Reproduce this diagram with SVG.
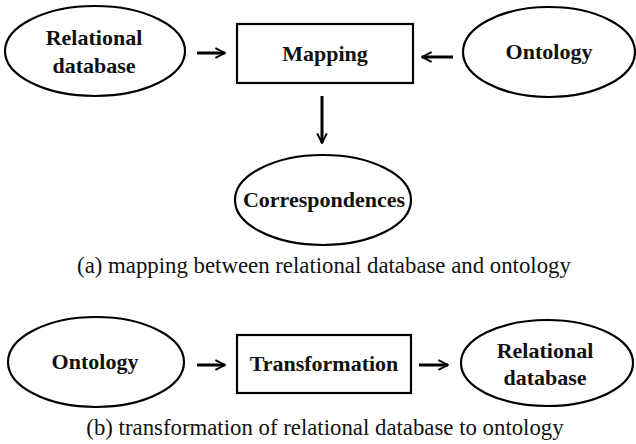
<svg xmlns="http://www.w3.org/2000/svg" width="636" height="444" viewBox="0 0 636 444">
<defs>
<style>
.node ellipse, .node rect { fill: #fff; stroke: #000; stroke-width: 2.2; }
.lbl { font-family: "Liberation Serif", "Times New Roman", serif; font-weight: bold; font-size: 22px; text-anchor: middle; fill: #111; }
.cap { font-family: "Liberation Serif", "Times New Roman", serif; font-size: 22.8px; text-anchor: middle; fill: #111; }
.conn line { stroke: #000; stroke-width: 3; marker-end: url(#ah); }
</style>
<marker id="ah" viewBox="0 0 10 10" refX="9" refY="5" markerWidth="4" markerHeight="4" orient="auto" markerUnits="strokeWidth">
<path d="M1,1 L9,5 L1,9" fill="none" stroke="#000" stroke-width="1.6"/>
</marker>
</defs>
<rect width="636" height="444" fill="#fff"/>
<g id="relational-db-a" class="node">
<ellipse cx="95" cy="51" rx="90" ry="45"/>
<text class="lbl" x="94" y="45">Relational</text>
<text class="lbl" x="94" y="73">database</text>
</g>
<g id="mapping" class="node">
<rect x="237" y="24" width="176" height="59"/>
<text class="lbl" x="325" y="61">Mapping</text>
</g>
<g id="ontology-a" class="node">
<ellipse cx="549" cy="52" rx="86" ry="45"/>
<text class="lbl" x="549" y="59">Ontology</text>
</g>
<g id="correspondences" class="node">
<ellipse cx="323" cy="200" rx="88" ry="45"/>
<text class="lbl" x="324" y="207">Correspondences</text>
</g>
<g id="ontology-b" class="node">
<ellipse cx="96" cy="362" rx="88" ry="45"/>
<text class="lbl" x="95" y="369">Ontology</text>
</g>
<g id="transformation" class="node">
<rect x="237" y="335" width="174" height="58"/>
<text class="lbl" x="324" y="371">Transformation</text>
</g>
<g id="relational-db-b" class="node">
<ellipse cx="547" cy="363" rx="86" ry="43"/>
<text class="lbl" x="545" y="358">Relational</text>
<text class="lbl" x="545" y="385">database</text>
</g>
<g id="connectors" class="conn">
<line x1="197" y1="53" x2="225" y2="53"/>
<line x1="453" y1="57" x2="422" y2="57"/>
<line x1="322" y1="96" x2="322" y2="143"/>
<line x1="197" y1="365" x2="225" y2="365"/>
<line x1="419" y1="365" x2="448" y2="365"/>
</g>
<text class="cap" x="324" y="273">(a) mapping between relational database and ontology</text>
<text class="cap" x="325" y="435">(b) transformation of relational database to ontology</text>
</svg>
